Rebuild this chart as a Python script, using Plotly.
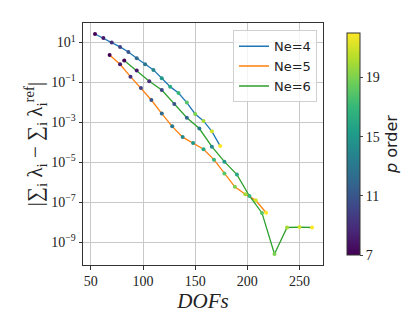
import numpy as np
import plotly.graph_objects as go

p_order = list(range(7, 23))

dofs_ne4 = [54, 62, 70, 78, 86, 94, 102, 110, 118, 126, 134, 142, 150, 158, 166, 174]
log_err_ne4 = [1.43, 1.23, 1.0, 0.78, 0.53, 0.21, -0.09, -0.37, -0.79, -1.21, -1.53, -2.01, -2.58, -2.93, -3.45, -4.19]

dofs_ne5 = [68, 78, 88, 98, 108, 118, 128, 138, 148, 158, 168, 178, 188, 198, 208, 218]
log_err_ne5 = [0.38, -0.09, -0.71, -1.28, -1.88, -2.56, -3.2, -3.74, -4.04, -4.35, -4.87, -5.56, -6.23, -6.6, -6.91, -7.53]

dofs_ne6 = [82, 94, 106, 118, 130, 142, 154, 166, 178, 190, 202, 214, 226, 238, 250, 262]
log_err_ne6 = [0.10, -0.40, -0.94, -1.38, -2.08, -2.77, -3.31, -4.22, -4.97, -5.62, -6.69, -7.54, -9.6, -8.27, -8.25, -8.27]

y_tick_exp = [1, -1, -3, -5, -7, -9]
y_tick_text = ["10<sup>1</sup>", "10<sup>−1</sup>", "10<sup>−3</sup>", "10<sup>−5</sup>", "10<sup>−7</sup>", "10<sup>−9</sup>"]

series = [
    ("Ne=4", dofs_ne4, log_err_ne4, "#1f77b4"),
    ("Ne=5", dofs_ne5, log_err_ne5, "#ff7f0e"),
    ("Ne=6", dofs_ne6, log_err_ne6, "#2ca02c"),
]

serif = "Liberation Serif, DejaVu Serif, serif"
fig = go.Figure()
for name, x, ly, col in series:
    fig.add_trace(go.Scatter(
        x=x, y=[10 ** v for v in ly], name=name, mode="lines+markers", showlegend=False,
        line=dict(color=col, width=1.3),
        marker=dict(size=4, color=p_order, coloraxis="coloraxis", line=dict(width=0)),
    ))
for name, x, ly, col in series:
    fig.add_trace(go.Scatter(
        x=[None], y=[None], name=name, mode="lines",
        line=dict(color=col, width=1.5), showlegend=True,
    ))

fig.update_layout(
    width=415, height=312,
    margin=dict(l=75, r=82, t=15, b=55),
    paper_bgcolor="white", plot_bgcolor="white",
    font=dict(family=serif, size=14, color="#222"),
    coloraxis=dict(
        colorscale="Viridis", cmin=7, cmax=22,
        colorbar=dict(
            x=1.058, xanchor="left", xref="paper", y=0.5, yanchor="middle", len=1.0, lenmode="fraction",
            thickness=13, outlinewidth=1, outlinecolor="#333",
            tickvals=[7, 11, 15, 19], ticks="outside", ticklen=3, tickfont=dict(family=serif, size=14),
            title=dict(text="<i>p</i> order", side="right", font=dict(family="DejaVu Sans, sans-serif", size=16)),
        ),
    ),
    legend=dict(
        x=0.975, xanchor="right", y=0.97, yanchor="top",
        bgcolor="rgba(255,255,255,0.8)", bordercolor="#d0d0d0", borderwidth=1,
        font=dict(family="DejaVu Sans, sans-serif", size=13),
        tracegroupgap=0,
    ),
)

fig.update_xaxes(
    range=[42.5, 272.5], tickvals=[50, 100, 150, 200, 250],
    showgrid=True, gridcolor="#c8c8c8", gridwidth=1,
    showline=True, linecolor="#333", linewidth=1, mirror=True,
    ticks="outside", ticklen=3.5, tickcolor="#333",
    zeroline=False, tickfont=dict(family=serif, size=14),
    title=dict(text="<i>DOFs</i>", font=dict(family=serif, size=21), standoff=0),
)
fig.update_yaxes(
    type="log", range=[-10.15, 1.98], tickvals=[10 ** e for e in y_tick_exp], ticktext=y_tick_text,
    showgrid=True, gridcolor="#c8c8c8", gridwidth=1,
    showline=True, linecolor="#333", linewidth=1, mirror=True,
    ticks="outside", ticklen=3.5, tickcolor="#333",
    zeroline=False, tickfont=dict(family=serif, size=14),
    title=dict(text="|∑<sub>i</sub> λ<sub>i</sub> − ∑<sub>i</sub> λ<sub>i</sub><sup>ref</sup>|",
               font=dict(family=serif, size=21), standoff=2),
)

fig.write_html("out.html")
